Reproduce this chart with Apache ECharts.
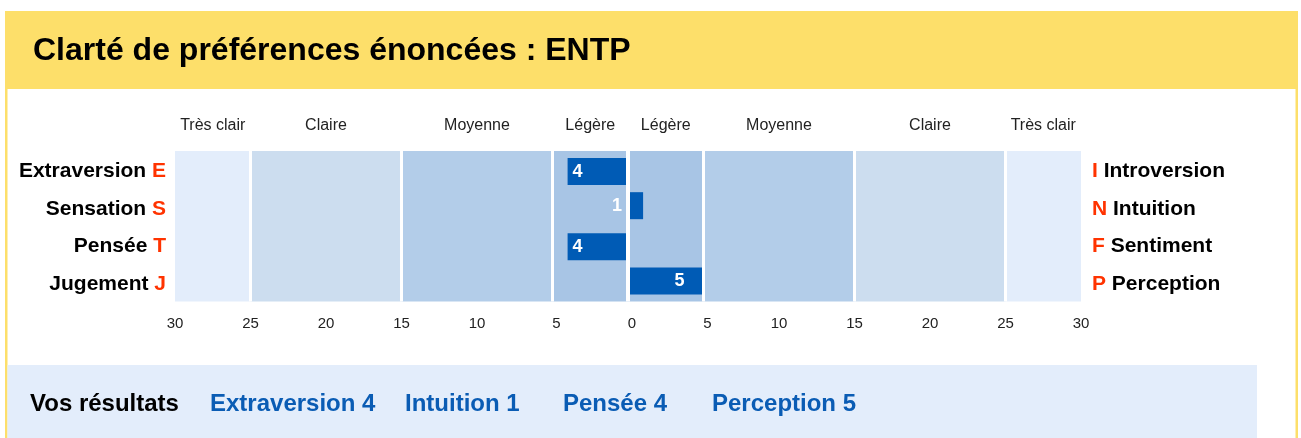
<!DOCTYPE html>
<html>
<head>
<meta charset="utf-8">
<script src="https://cdn.jsdelivr.net/npm/echarts@6/dist/echarts.min.js"></script>
<style>
  html, body { margin: 0; padding: 0; background: #ffffff; }
  #chart { width: 1301px; height: 438px; }
</style>
</head>
<body>
<div id="chart"></div>
<script>
// ---- data ----
const titleText = 'Clarté de préférences énoncées : ENTP';
const leftCats = ['Extraversion', 'Sensation', 'Pensée', 'Jugement'];
const leftLetters = ['E', 'S', 'T', 'J'];
const rightCats = ['Introversion', 'Intuition', 'Sentiment', 'Perception'];
const rightLetters = ['I', 'N', 'F', 'P'];
const leftScores = [4, null, 4, null];
const rightScores = [null, 1, null, 5];
const bandNames = ['Très clair', 'Claire', 'Moyenne', 'Légère'];
const bandEdges = [30, 25, 15, 5, 0];
const resultsLabel = 'Vos résultats';
const results = ['Extraversion 4', 'Intuition 1', 'Pensée 4', 'Perception 5'];

// ---- styles ----
const FONT = "'Liberation Sans', Arial, Helvetica, sans-serif";
const bandColors = ['#e3edfb', '#ccddef', '#b3cde9', '#a8c5e5'];
const barColor = '#005bb5';
const red = '#ff3300';
const yellow = '#fddf6a';
const resultX = [210, 405, 563, 712];

const chart = echarts.init(document.getElementById('chart'), null, { renderer: 'canvas' });

// bands (mirrored)
const areas = [];
for (let i = 0; i < bandNames.length; i++) {
  const a = bandEdges[i], b = bandEdges[i + 1];
  areas.push([{ name: bandNames[i], xAxis: -a, itemStyle: { color: bandColors[i] } }, { xAxis: -b }]);
  areas.push([{ name: bandNames[i], xAxis: b, itemStyle: { color: bandColors[i] } }, { xAxis: a }]);
}
// white separators
const seps = [];
for (let i = 1; i < bandEdges.length; i++) {
  const e = bandEdges[i];
  if (e === 0) seps.push({ xAxis: 0, lineStyle: { width: 4 } });
  else { seps.push({ xAxis: -e }); seps.push({ xAxis: e }); }
}

const rich = {
  b: { fontSize: 21, fontWeight: 'bold', color: '#000', fontFamily: FONT, padding: [3, 0, 0, 0] },
  r: { fontSize: 21, fontWeight: 'bold', color: red, fontFamily: FONT, padding: [3, 0, 0, 0] }
};

const option = {
  animation: false,
  textStyle: { fontFamily: FONT },
  title: {
    text: titleText,
    left: 33, top: 35, padding: 0,
    textStyle: { fontSize: 32, fontWeight: 'bold', color: '#000', fontFamily: FONT }
  },
  grid: { left: 175, top: 151, width: 906, height: 150.5, containLabel: false },
  xAxis: {
    type: 'value', min: -30, max: 30, interval: 5,
    axisLine: { show: false }, axisTick: { show: false }, splitLine: { show: false },
    axisLabel: {
      margin: 15, color: '#222', fontSize: 15,
      formatter: v => { const a = Math.abs(v); return a < 10 ? '{s|' + a + '}' : String(a); },
      rich: { s: { fontSize: 15, color: '#222', padding: [0, 0, 0, 8], fontFamily: FONT } }
    }
  },
  yAxis: [
    {
      type: 'category', data: leftCats, inverse: true, position: 'left',
      axisLine: { show: false }, axisTick: { show: false }, splitLine: { show: false },
      axisLabel: { margin: 9, formatter: (v, i) => '{b|' + v + '\u00a0}{r|' + leftLetters[i] + '}', rich: rich }
    },
    {
      type: 'category', data: rightCats, inverse: true, position: 'right',
      axisLine: { show: false }, axisTick: { show: false }, splitLine: { show: false },
      axisLabel: { margin: 11, formatter: (v, i) => '{r|' + rightLetters[i] + '\u00a0}{b|' + v + '}', rich: rich }
    }
  ],
  series: [
    {
      name: 'right', type: 'bar', yAxisIndex: 0,
      data: rightScores.map(v => v == null ? null : {
        value: v,
        label: v < 2 ? { position: 'left', distance: 6 } : { position: 'insideRight', distance: 19 }
      }),
      barWidth: 27, barGap: '-87%',
      itemStyle: { color: barColor },
      label: {
        show: true, color: '#fff', fontSize: 18, fontWeight: 'bold', fontFamily: FONT,
        formatter: p => p.value
      },
      markLine: {
        silent: true, symbol: 'none',
        label: { show: false },
        lineStyle: { color: '#ffffff', width: 3, type: 'solid' },
        data: seps
      }
    },
    {
      name: 'left', type: 'bar', yAxisIndex: 0,
      data: leftScores.map(v => v == null ? null : -v),
      barWidth: 27, barGap: '-87%',
      itemStyle: { color: barColor },
      label: {
        show: true, position: 'insideLeft', distance: 5,
        formatter: p => Math.abs(p.value),
        color: '#fff', fontSize: 18, fontWeight: 'bold', fontFamily: FONT
      },
      markArea: {
        silent: true,
        label: { show: true, position: 'top', distance: 17, color: '#222', fontSize: 16, fontFamily: FONT },
        data: areas
      }
    }
  ],
  graphic: [
    { type: 'rect', z: -10, shape: { x: 5, y: 11, width: 1293, height: 78 }, style: { fill: yellow } },
    { type: 'rect', z: -10, shape: { x: 5, y: 89, width: 2.5, height: 349 }, style: { fill: yellow } },
    { type: 'rect', z: -10, shape: { x: 1295.5, y: 89, width: 2.5, height: 349 }, style: { fill: yellow } },
    { type: 'rect', z: -10, shape: { x: 7.5, y: 365, width: 1249.5, height: 73 }, style: { fill: '#e3edfb' } },
    { type: 'text', left: 30, top: 392, style: { text: resultsLabel, fill: '#000', font: 'bold 24px ' + FONT } }
  ].concat(results.map((t, i) => ({
    type: 'text', left: resultX[i], top: 392,
    style: { text: t, fill: '#0a5cb4', font: 'bold 24px ' + FONT }
  })))
};

chart.setOption(option);
</script>
</body>
</html>
